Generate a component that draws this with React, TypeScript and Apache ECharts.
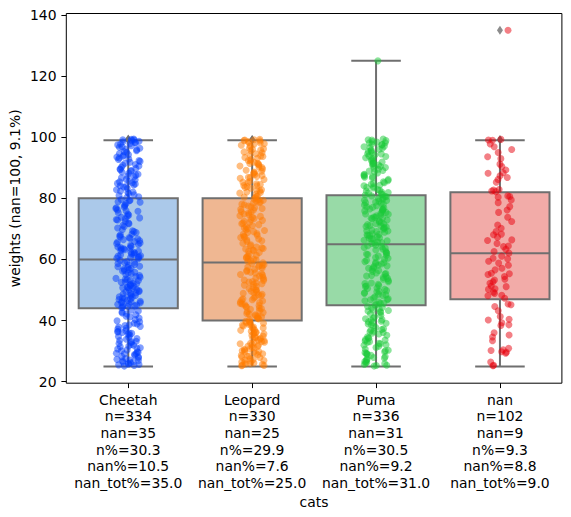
import React, { useEffect, useRef } from "react";
import * as echarts from "echarts";

// Category labels and per-category counts shown under each box
const cats = ["Cheetah", "Leopard", "Puma", "nan"];
const nCounts = [334, 330, 336, 102];
const nanCounts = [35, 25, 31, 9];
const nPct = ["30.3", "29.9", "30.5", "9.3"];
const nanPct = ["10.5", "7.6", "9.2", "8.8"];
const nanTotPct = ["35.0", "25.0", "31.0", "9.0"];

// Box statistics: lower whisker, Q1, median, Q3, upper whisker
const whiskerLow = [25, 25, 25, 25];
const q1 = [44, 40, 45, 47];
const median = [60, 59, 65, 62];
const q3 = [80, 80, 81, 82];
const whiskerHigh = [99, 99, 125, 99];

// Observed weights per category
const cheetah = [
  25.3, 27.1, 30.4, 26.8, 33.2, 28.9, 25.9, 31.7, 34.5, 29.3, 26.2, 32.8, 27.6, 30.9, 25.1, 33.9, 28.2, 31.1, 26.5, 29.8,
  34.1, 27.3, 32.2, 25.6, 30.1, 28.6, 33.5, 26.9, 31.4, 29.1,
  35.2, 38.4, 36.7, 41.2, 37.9, 35.8, 39.6, 42.8, 36.1, 40.3, 38.9, 43.5, 37.2, 35.5, 41.9, 39.1, 36.4, 42.2, 38.1, 43.1,
  44.6, 47.2, 50.8, 45.3, 53.1, 48.7, 56.4, 46.1, 51.9, 58.2, 44.9, 49.5, 54.7, 47.8, 52.3, 57.6, 45.8, 50.2, 55.1, 48.1,
  59.3, 46.6, 53.8, 51.2, 56.9, 44.2, 49.1, 54.2, 47.4, 58.7, 45.5, 52.7, 50.5, 55.8, 48.4, 57.1, 46.9, 53.4, 51.6, 59.7,
  44.4, 49.8, 55.4, 47.6, 52.1, 58.9, 45.1, 50.9, 56.2, 48.9,
  60.4, 63.2, 66.8, 61.5, 64.9, 68.3, 62.1, 65.7, 69.4, 60.9, 63.8, 67.2, 61.8, 64.3, 66.1, 62.7, 65.2, 68.8, 60.2, 63.5,
  67.7, 61.2, 64.6, 69.1, 62.4, 65.9, 60.6, 66.5, 63.9, 61.1,
  72.4, 75.8, 78.3, 71.2, 76.9, 73.1, 79.2, 74.5, 77.6, 70.8, 72.9, 78.9, 73.6, 76.2, 79.6, 71.7, 74.9, 77.1, 75.3, 73.3,
  80.5, 83.2, 86.7, 89.4, 92.1, 95.3, 97.8, 81.6, 84.9, 88.2, 91.5, 94.7, 98.3, 82.4, 85.6, 87.9, 90.6, 93.2, 96.4, 99.1,
  80.9, 84.1, 86.2, 89.8, 92.7, 95.9, 98.7, 83.7, 87.3, 90.2, 93.8, 96.9, 81.2, 85.1, 88.6, 91.1, 94.3, 97.2, 99.4, 82.8,
  86.1, 89.1, 92.4, 95.6, 98.1, 84.4, 87.6, 91.8, 96.1, 98.9,
  25.8, 28.1, 31.9, 34.8, 26.4, 29.6, 33.1, 27.8, 30.7, 32.5, 36.3, 39.9, 42.5, 35.9, 38.6, 41.4, 37.5, 40.8, 25.5, 29.2,
  44.8, 46.3, 48.2, 50.1, 51.4, 53.6, 55.6, 57.4, 59.1, 45.9, 47.1, 49.4, 52.5, 54.4, 56.7, 58.4, 46.2, 50.7, 53.2, 57.8,
  60.7, 62.3, 64.1, 65.4, 66.9, 68.1, 61.6, 63.4, 67.4, 69.7, 70.3, 71.9, 73.8, 74.2, 75.9, 76.6, 77.9, 78.7, 79.4, 62.9,
  80.3, 82.1, 83.9, 85.4, 87.1, 88.9, 90.8, 92.9, 94.1, 95.1, 96.7, 97.5, 98.5, 99.2, 81.9, 84.7, 89.6, 93.5, 97.9, 99.3,
];
const leopard = [
  25.2, 28.4, 31.7, 34.9, 37.3, 26.1, 29.6, 32.8, 35.5, 38.7, 25.7, 27.9, 30.3, 33.6, 36.2, 39.1, 26.6, 29.1, 31.2, 34.1,
  37.8, 25.4, 28.1, 30.8, 33.1, 35.9, 38.2, 27.3, 29.9, 32.4, 34.6, 36.8, 39.5, 26.3, 28.8, 31.5, 33.9, 36.5, 38.9, 25.9,
  27.5, 30.1, 32.2, 35.2, 37.6, 39.8, 26.9, 29.3, 31.9, 34.4,
  40.3, 43.7, 47.1, 50.5, 53.9, 57.2, 41.6, 45.2, 48.6, 52.1, 55.4, 58.7, 42.3, 45.9, 49.3, 52.8, 56.1, 40.8, 44.1, 47.7,
  51.2, 54.6, 57.9, 42.9, 46.4, 49.9, 53.3, 56.8, 41.2, 44.6, 48.1, 51.6, 55.1, 58.3, 43.2, 46.8, 50.1, 53.6, 57.5, 40.5,
  44.9, 48.9, 52.4, 55.8, 41.9, 45.6, 49.6, 54.2, 42.6, 46.1,
  59.4, 62.7, 66.1, 69.5, 72.8, 76.2, 79.4, 60.3, 63.8, 67.2, 70.6, 74.1, 77.5, 61.1, 64.5, 68.2, 71.7, 75.2, 78.6, 59.8,
  63.1, 66.7, 70.1, 73.4, 76.9, 79.8, 61.8, 65.3, 68.8, 72.2, 75.7, 78.1, 60.7, 64.1, 67.6, 71.1, 74.6, 77.9, 62.3, 65.9,
  69.1, 73.1, 76.4, 79.1, 60.1, 63.4, 67.9, 71.4, 74.9, 78.4,
  80.2, 83.6, 86.9, 90.3, 93.7, 97.1, 81.4, 84.8, 88.1, 91.5, 94.9, 98.3, 82.1, 85.5, 88.9, 92.2, 95.6, 98.9, 80.7, 84.2,
  87.5, 90.9, 94.3, 97.7, 81.9, 85.1, 88.4, 91.8, 95.2, 98.6, 82.8, 86.2, 89.6, 93.1, 96.4, 99.1, 80.5, 83.9, 87.2, 90.6,
  93.9, 97.4, 82.4, 86.6, 89.2, 92.7, 96.1, 99.3, 84.5, 91.2,
  25.3, 27.1, 28.6, 30.6, 32.6, 34.2, 36.1, 37.9, 39.3, 26.4, 29.8, 31.1, 33.4, 35.7, 38.5, 25.8, 28.3, 32.9, 36.9, 39.6,
  40.9, 42.1, 43.9, 45.4, 47.4, 48.4, 50.8, 51.9, 53.1, 54.9, 56.4, 57.7, 58.9, 41.4, 44.4, 46.7, 49.1, 52.6, 55.6, 58.1,
  59.6, 61.4, 62.9, 64.8, 66.4, 68.5, 70.3, 72.5, 73.8, 75.5, 77.2, 79.6, 60.5, 63.6, 67.3, 69.8, 71.9, 74.3, 76.7, 78.8,
  80.4, 81.7, 83.3, 85.3, 86.8, 88.6, 90.1, 91.4, 93.4, 94.6, 96.2, 97.9, 98.8, 99.2, 82.6, 87.8, 92.4, 95.8, 98.1, 84.1,
];
const puma = [
  25.1, 28.6, 32.1, 35.6, 39.1, 42.6, 26.3, 29.8, 33.3, 36.8, 40.3, 43.8, 27.2, 30.7, 34.2, 37.7, 41.2, 44.6, 25.6, 29.1,
  32.6, 36.1, 39.6, 43.1, 26.8, 30.3, 33.8, 37.3, 40.8, 44.3, 27.7, 31.2, 34.7, 38.2, 41.7, 25.4, 28.9, 32.4, 35.9, 39.4,
  42.9, 26.1, 29.5, 33.1, 36.5, 40.1, 43.5, 27.9, 31.6, 38.6,
  45.3, 48.6, 51.9, 55.2, 58.5, 61.8, 46.1, 49.4, 52.7, 56.1, 59.3, 62.6, 46.9, 50.2, 53.5, 56.8, 60.1, 63.4, 45.7, 49.1,
  52.3, 55.6, 58.9, 62.2, 47.4, 50.7, 54.1, 57.3, 60.6, 63.9, 45.1, 48.2, 51.5, 54.8, 58.1, 61.4, 64.7, 47.8, 51.1, 54.4,
  57.7, 61.1, 64.2, 46.5, 49.8, 53.1, 56.4, 59.7, 63.1, 48.9,
  65.2, 67.9, 70.6, 73.3, 76.1, 78.8, 65.7, 68.4, 71.1, 73.8, 76.5, 79.3, 66.3, 69.1, 71.8, 74.5, 77.2, 79.9, 66.8, 69.6,
  72.3, 75.1, 77.8, 80.5, 65.5, 68.2, 70.9, 73.6, 76.4, 79.1, 66.1, 68.9, 71.6, 74.3, 77.1, 79.7, 67.4, 70.2, 72.9, 75.6,
  78.3, 80.8, 67.1, 69.9, 72.6, 75.4, 78.1, 80.2, 70.4, 74.8,
  81.3, 84.6, 87.9, 91.2, 94.5, 97.8, 82.1, 85.4, 88.7, 92.1, 95.3, 98.6, 82.9, 86.2, 89.5, 92.8, 96.1, 99.2, 81.7, 85.1,
  88.3, 91.6, 94.9, 98.2, 83.4, 86.7, 90.1, 93.3, 96.6, 99.4, 81.1, 84.3, 87.6, 90.9, 94.2, 97.5, 83.8, 87.1, 90.4, 93.7,
  97.1, 82.6, 86.9, 89.9, 93.1, 95.8, 98.9, 84.9, 91.9, 96.9, 125,
  25.3, 26.6, 28.2, 30.1, 31.9, 33.6, 35.2, 37.1, 38.9, 40.6, 42.2, 44.1, 25.9, 29.3, 32.9, 36.3, 39.8, 43.3, 27.4, 34.4,
  45.6, 47.1, 48.4, 50.5, 52.1, 53.8, 55.4, 57.1, 58.7, 60.4, 62.1, 63.7, 64.5, 46.8, 49.6, 51.3, 54.6, 57.9, 61.6, 59.1,
  65.4, 66.6, 68.1, 69.4, 70.8, 72.1, 73.5, 74.9, 76.3, 77.6, 79.4, 80.6, 66.9, 69.3, 71.4, 73.9, 76.8, 78.6, 67.8, 75.9,
  81.5, 82.4, 83.6, 85.8, 87.3, 88.9, 90.6, 92.4, 93.9, 95.5, 96.4, 97.6, 98.4, 99.1, 81.9, 84.1, 89.1, 91.4, 94.6, 98.1,
];
const nanCat = [
  135, 99.3, 99.1, 97.8, 96.9, 96, 95, 93.6, 91.2, 90.4, 89.3, 88.4, 88.2, 86.2, 85.3, 82.7, 82.9, 82.2, 80.6, 80.8,
  80.4, 79.5, 78.6, 76.2, 75.4, 72.4, 71.3, 70.2, 68.3, 68.1, 67.3, 66.4, 66.2, 64.4, 64.2, 63.3, 62.6, 61.1, 60.4, 60.2,
  58.8, 57.1, 56.6, 55.5, 55.3, 54.4, 53.5, 53.3, 52.7, 51.3, 51.1, 50.2, 50.4, 48.9, 48.3, 48.1, 47.3, 45.4, 45.2, 43.2,
  40.4, 40.2, 39.3, 38.6, 38.4, 36, 35.3, 33.4, 30.9, 30.4, 30.2, 29.8, 29.6, 29.3, 25.4, 25.2, 99, 93, 82.4, 62.1,
  55.1, 49.3, 41.3, 26.4, 73.8, 58.1, 44.6, 86.8, 65.2, 77.3, 87.4, 69.1, 52.2, 34.6, 59.4,
];
const pointsByCat = [cheetah, leopard, puma, nanCat];

const boxFill = ["#abc9ea", "#efb792", "#98daa7", "#f2aba8"];
const pointColor = ["#023eff", "#ff7c00", "#1ac938", "#e8000b"];
const edgeGray = "#6f6f6f";
const FONT = "DejaVu Sans";

// deterministic horizontal spread for the strip points
function jitter(i: number, c: number) {
  const s = Math.sin((i + 1) * 12.9898 + (c + 1) * 78.233) * 43758.5453;
  return (s - Math.floor(s) - 0.5) * 0.2;
}

export default function App() {
  const ref = useRef<HTMLDivElement>(null);

  useEffect(() => {
    document.body.style.margin = "0";
    const chart = echarts.init(ref.current!, null, { renderer: "svg" });

    const labels = cats.map(
      (c, i) =>
        `${c}\nn=${nCounts[i]}\nnan=${nanCounts[i]}\nn%=${nPct[i]}\nnan%=${nanPct[i]}\nnan_tot%=${nanTotPct[i]}`
    );

    const boxData = cats.map((_, i) => [i, whiskerLow[i], q1[i], median[i], q3[i], whiskerHigh[i]]);

    const fliers: number[][] = [];
    pointsByCat.forEach((vals, c) => {
      vals.forEach((v) => {
        if (v > whiskerHigh[c] || v < whiskerLow[c]) fliers.push([c, v]);
      });
    });

    const stripSeries = pointsByCat.map((vals, c) => ({
      type: "scatter",
      xAxisIndex: 1,
      yAxisIndex: 0,
      symbol: "circle",
      symbolSize: 7,
      itemStyle: { color: pointColor[c], opacity: 0.5 },
      z: 3,
      silent: true,
      data: vals.map((v, i) => [c + jitter(i, c), v]),
    }));

    const left = 66.3;
    const width = 495.6;

    chart.setOption({
      animation: false,
      textStyle: { fontFamily: FONT },
      grid: [
        { left, top: 13.5, width, height: 369.7, show: true, borderColor: "#000", borderWidth: 1, containLabel: false },
        { left, top: 15, width, height: 366.7, containLabel: false },
      ],
      xAxis: [
        {
          type: "category",
          gridIndex: 0,
          data: labels,
          boundaryGap: true,
          axisLine: { show: false },
          axisTick: { show: true, alignWithLabel: true, length: 4.9, lineStyle: { color: "#000", width: 1 } },
          axisLabel: { color: "#000", fontSize: 13.9, lineHeight: 16.7, margin: 8, fontFamily: FONT, interval: 0 },
          splitLine: { show: false },
        },
        { type: "value", gridIndex: 0, min: -0.5, max: 3.5, show: false },
        { type: "value", gridIndex: 1, min: 0, max: 1, show: false },
      ],
      yAxis: [
        { type: "value", gridIndex: 0, min: 19.5, max: 140.5, show: false },
        {
          type: "value",
          gridIndex: 1,
          min: 20,
          max: 140,
          interval: 20,
          axisLine: { show: false },
          axisTick: { show: true, length: 4.9, lineStyle: { color: "#000", width: 1 } },
          axisLabel: { color: "#000", fontSize: 13.9, margin: 9.8, fontFamily: FONT },
          splitLine: { show: false },
        },
      ],
      graphic: [
        {
          type: "text",
          x: 15,
          y: 198.3,
          rotation: Math.PI / 2,
          style: {
            text: "weights (nan=100, 9.1%)",
            font: `13.9px "${FONT}"`,
            fill: "#000",
            textAlign: "center",
            textVerticalAlign: "middle",
          },
        },
        {
          type: "text",
          x: 314,
          y: 502,
          style: {
            text: "cats",
            font: `13.9px "${FONT}"`,
            fill: "#000",
            textAlign: "center",
            textVerticalAlign: "middle",
          },
        },
      ],
      series: [
        {
          type: "custom",
          xAxisIndex: 1,
          yAxisIndex: 0,
          z: 2,
          silent: true,
          data: boxData,
          encode: { x: 0, y: [1, 2, 3, 4, 5] },
          renderItem: (params: any, api: any) => {
            const i = api.value(0);
            const lo = api.coord([i, api.value(1)]);
            const b1 = api.coord([i, api.value(2)]);
            const md = api.coord([i, api.value(3)]);
            const b3 = api.coord([i, api.value(4)]);
            const hi = api.coord([i, api.value(5)]);
            const w = api.size([0.8, 0])[0];
            const cx = md[0];
            const line = { stroke: edgeGray, lineWidth: 2, fill: null };
            return {
              type: "group",
              children: [
                { type: "line", shape: { x1: cx, y1: b1[1], x2: cx, y2: lo[1] }, style: line },
                { type: "line", shape: { x1: cx, y1: b3[1], x2: cx, y2: hi[1] }, style: line },
                { type: "line", shape: { x1: cx - w / 4, y1: lo[1], x2: cx + w / 4, y2: lo[1] }, style: line },
                { type: "line", shape: { x1: cx - w / 4, y1: hi[1], x2: cx + w / 4, y2: hi[1] }, style: line },
                {
                  type: "rect",
                  shape: { x: cx - w / 2, y: b3[1], width: w, height: b1[1] - b3[1] },
                  style: { fill: boxFill[params.dataIndex], stroke: edgeGray, lineWidth: 2 },
                },
                { type: "line", shape: { x1: cx - w / 2, y1: md[1], x2: cx + w / 2, y2: md[1] }, style: line },
              ],
            };
          },
        },
        {
          type: "scatter",
          xAxisIndex: 1,
          yAxisIndex: 0,
          symbol: "diamond",
          symbolSize: [6, 9],
          itemStyle: { color: edgeGray },
          z: 2,
          silent: true,
          data: fliers,
        },
        ...stripSeries,
      ],
    });

    return () => chart.dispose();
  }, []);

  return <div ref={ref} style={{ width: 571, height: 517 }} />;
}
